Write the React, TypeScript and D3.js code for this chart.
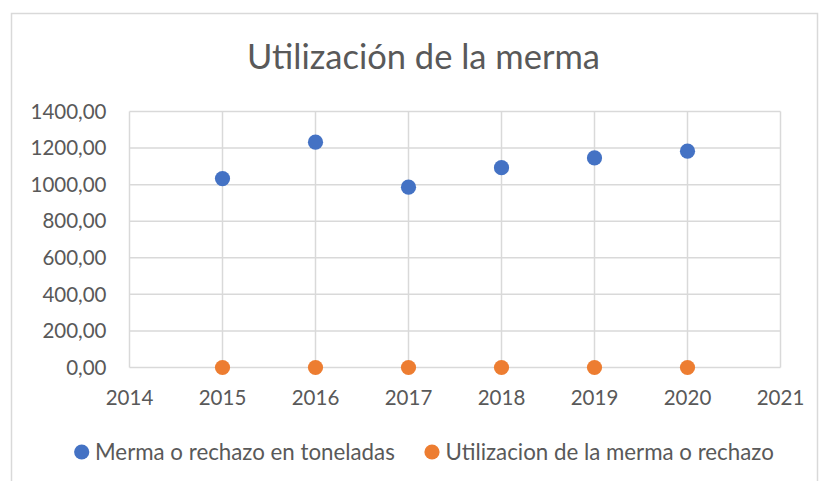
import React from "react";
import * as d3 from "d3";

const years = [2015, 2016, 2017, 2018, 2019, 2020];
const merma = [1033, 1232, 986, 1093, 1146, 1183];
const utilizacion = [0, 0, 0, 0, 0, 0];
const xTicks = [2014, 2015, 2016, 2017, 2018, 2019, 2020, 2021];
const yTicks = [0, 200, 400, 600, 800, 1000, 1200, 1400];
const seriesNames = ["Merma o rechazo en toneladas", "Utilizacion de la merma o rechazo"];
const colors = ["#4472C4", "#ED7D31"];

export default function App() {
  const W = 819, H = 481;
  const left = 129.5, right = 780.5, top = 111.5, bottom = 367.5;
  const x = d3.scaleLinear().domain([2014, 2021]).range([left, right]);
  const y = d3.scaleLinear().domain([0, 1400]).range([bottom, top]);
  const font = "Lato, 'Open Sans', sans-serif";
  const fmt = (v: number) => v.toFixed(2).replace(".", ",");
  const series = [merma, utilizacion];
  const tickSize = 20.5;
  return (
    <svg width={W} height={H} style={{ position: "absolute", left: 0, top: 0 }}>
      <rect x={0} y={0} width={W} height={H} fill="#fff" />
      <rect x={11.5} y={13.5} width={806} height={480} fill="none" stroke="#d9d9d9" strokeWidth={1.5} />
      <text x={423.5} y={69} textAnchor="middle" fontFamily={font} fontSize={34.5} fill="#595959">
        Utilización de la merma
      </text>
      {yTicks.map((t) => (
        <line key={"gy" + t} x1={left} x2={right} y1={y(t)} y2={y(t)} stroke="#d9d9d9" strokeWidth={1.5} />
      ))}
      {xTicks.map((t) => (
        <line key={"gx" + t} x1={x(t)} x2={x(t)} y1={top} y2={bottom} stroke="#d9d9d9" strokeWidth={1.5} />
      ))}
      {yTicks.map((t) => (
        <text key={"ty" + t} x={106.5} y={y(t)} dy="0.35em" textAnchor="end" fontFamily={font} fontSize={tickSize} fill="#595959">
          {fmt(t)}
        </text>
      ))}
      {xTicks.map((t) => (
        <text key={"tx" + t} x={x(t)} y={398} dy="0.35em" textAnchor="middle" fontFamily={font} fontSize={tickSize} fill="#595959">
          {t}
        </text>
      ))}
      {series.map((s, si) =>
        s.map((v, i) => (
          <circle key={si + "-" + i} cx={x(years[i])} cy={y(v)} r={7.6} fill={colors[si]} />
        ))
      )}
      <g>
        <circle cx={81.7} cy={452} r={7.6} fill={colors[0]} />
        <text x={95} y={452} dy="0.35em" fontFamily={font} fontSize={22.3} fill="#595959">{seriesNames[0]}</text>
        <circle cx={432} cy={452} r={7.6} fill={colors[1]} />
        <text x={445.5} y={452} dy="0.35em" fontFamily={font} fontSize={22.3} fill="#595959">{seriesNames[1]}</text>
      </g>
    </svg>
  );
}
